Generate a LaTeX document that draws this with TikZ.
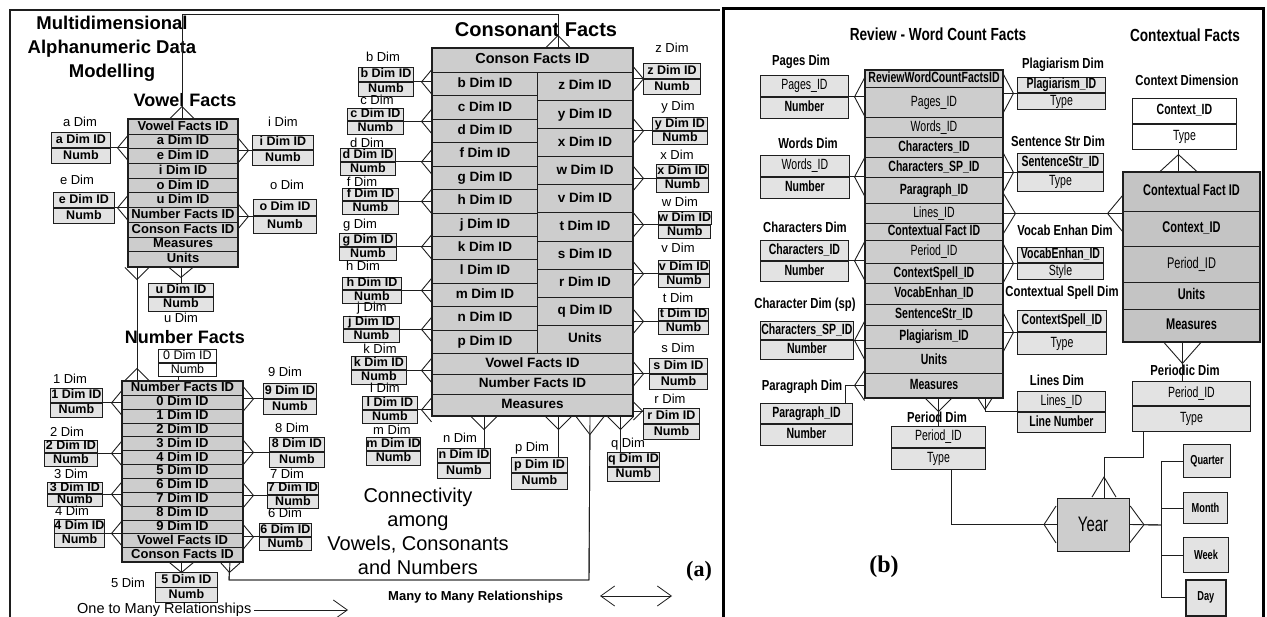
\documentclass[tikz,border=0pt]{standalone}
\usepackage{fontspec}
\setmainfont{Liberation Sans}
\newfontfamily\narrowsf{Liberation Sans}[FakeStretch=0.78]
\newfontfamily\condsf{Liberation Sans}[FakeStretch=0.71]
\newfontfamily\capserif{Liberation Serif}
\usetikzlibrary{arrows.meta,positioning}
\definecolor{factgray}{RGB}{205,205,205}
\definecolor{dimgray}{RGB}{227,227,227}
\definecolor{ctxgray}{RGB}{196,196,196}
\definecolor{ink}{RGB}{30,30,30}
\newcommand\fsz[1]{\fontsize{#1}{#1}\selectfont}
\tikzset{
  factrow/.style={draw=ink, line width=1pt, fill=factgray, inner sep=0pt,
    anchor=north west, text height=9.4pt, text depth=2.6pt, font=\bfseries\fsz{13}},
  tableframe/.style={draw=ink, line width=1.6pt},
  dimpart/.style={draw=ink, line width=0.9pt, fill=dimgray, inner sep=0pt,
    text height=9pt, text depth=2.4pt, font=\bfseries\fsz{12.5}},
  dimlbl/.style={inner sep=0pt, font=\fsz{13}},
  heading/.style={inner sep=0pt, align=center, font=\bfseries\fsz{18}},
  revrow/.style={draw=ink, line width=1pt, fill=factgray, inner sep=0pt, anchor=north west,
    minimum width=137, text height=10.5pt, text depth=3pt, font=\condsf\fsz{14.8}},
  ctxrow/.style={revrow, fill=ctxgray, minimum width=136, font=\condsf\fsz{15.5}},
  bpart/.style={draw=ink, line width=0.9pt, inner sep=0pt, text height=10.5pt, text depth=3pt,
    font=\condsf\fsz{14.8}},
  blbl/.style={inner sep=0pt, font=\narrowsf\bfseries\fsz{14.5}},
  btitle/.style={inner sep=0pt, font=\narrowsf\bfseries\fsz{17.5}},
  periodbox/.style={draw=ink, line width=1pt, fill=dimgray, inner sep=0pt, anchor=north west,
    font=\condsf\bfseries\fsz{13}},
  link/.style={draw=ink, line width=0.9pt},
  foot/.style 2 args={link, postaction={draw=ink, -{Straight Barb[reversed,length=#1,width=#2]}}},
  feet/.style n args={4}{link, postaction={draw=ink,
    {Straight Barb[reversed,length=#1,width=#2]}-{Straight Barb[reversed,length=#3,width=#4]}}},
  legtip/.style={line width=0.8pt, draw=ink, -{Straight Barb[length=14pt,width=20pt]}},
  legtips/.style={line width=0.8pt, draw=ink,
    {Straight Barb[length=14pt,width=20pt]}-{Straight Barb[length=14pt,width=20pt]}},
}
\begin{document}
\begin{tikzpicture}[x=1pt,y=-1pt]
\useasboundingbox (0,0) rectangle (1267,617);

% ---------- panel (a)
\draw[line width=2pt, draw=ink] (10,617) -- (10,10) -- (720,10);

\node[heading, font=\bfseries\fontsize{18.5}{24}\selectfont] (mtitle) at (112,49)
  {Multidimensional\\Alphanumeric Data\\Modelling};
\node[heading] (vtitle) at (185,100) {Vowel Facts};
\node[heading] (ntitle) at (185,337) {Number Facts};
\node[heading, font=\bfseries\fsz{20}] (ctitle) at (536,30) {Consonant Facts};

% fact tables
\foreach \t [count=\i] in {Vowel Facts ID, a Dim ID, e Dim ID, i Dim ID, o Dim ID, u Dim ID,
    Number Facts ID, Conson Facts ID, Measures, Units}
  \node[factrow, minimum width=109, minimum height=14.7] (vf\i) at (128,{119+(\i-1)*14.7}) {\t};
\draw[tableframe] (vf1.north west) rectangle (vf10.south east);

\foreach \t [count=\i] in {Number Facts ID, 0 Dim ID, 1 Dim ID, 2 Dim ID, 3 Dim ID, 4 Dim ID,
    5 Dim ID, 6 Dim ID, 7 Dim ID, 8 Dim ID, 9 Dim ID, Vowel Facts ID, Conson Facts ID}
  \node[factrow, minimum width=120, minimum height=13.85] (nf\i) at (122,{381+(\i-1)*13.85}) {\t};
\draw[tableframe] (nf1.north west) rectangle (nf13.south east);

\node[factrow, minimum width=200, minimum height=24, font=\bfseries\fsz{14.5}] (chd) at (432,48) {Conson Facts ID};
\foreach \t [count=\i] in {b,c,d,f,g,h,j,k,l,m,n,p}
  \node[factrow, minimum width=105, minimum height=23.42, font=\bfseries\fsz{13.5}] (cl\i)
    at (432,{72+(\i-1)*23.42}) {\t{} Dim ID};
\foreach \t [count=\i] in {z Dim ID, y Dim ID, x Dim ID, w Dim ID, v Dim ID, t Dim ID,
    s Dim ID, r Dim ID, q Dim ID, Units}
  \node[factrow, minimum width=95, minimum height=28.1, font=\bfseries\fsz{13.5}] (cr\i)
    at (537,{72+(\i-1)*28.1}) {\t};
\foreach \t [count=\i] in {Vowel Facts ID, Number Facts ID, Measures}
  \node[factrow, minimum width=200, minimum height=20.7, font=\bfseries\fsz{13.5}] (cb\i)
    at (432,{353+(\i-1)*20.7}) {\t};
\draw[tableframe] (chd.north west) rectangle (cb3.south east);

% dimension boxes
\foreach \n/\x/\y/\w/\h/\lx/\ly in {
    a/51/132/59/15/80/122, e/53/192/61/15/77/180, i/252/135/61/14.5/283/122,
    o/253/199/63/16.5/287/185, u/148/283/65/13.5/181/318,
    1/50/388/52/14/70/379, 2/44/440/53/12.5/67/432, 3/47/482/55/11/71/474,
    4/54/519/50/13.5/72/511, 9/263/383/53/15/285/372, 8/269/437/55/14.5/292/428,
    7/267/482/51/12.5/287/474, 6/259/523/52/13/285/513, 5/155/572/62/14.5/128/583,
    b/358/67/55/14/383/57, c/347/108/56/12.5/377/100, d/340/148/55/13/367/143,
    f/342/188/56/12.5/362/182, g/339/233/57/13/360/225, h/342/277/59/12.5/363/266,
    j/343/316/56/12.5/372/308, k/351/356/55/13.5/380/349, l/362/396/55/13/385/388,
    m/366/437/54/13.5/392/430,
    z/643/63/57/15/672/48, y/652/117/55/13/678/107, x/656/164/52/13.5/677/155,
    w/658/211/52/13/680/202, v/658/260/51/13/678/248, t/658/308/50/12.5/678/298,
    s/649/358/58/15/678/348, r/643/408/56/15/670/399,
    n/437/448/53/14.5/460/438, p/511/457/56/15.5/532/448, q/607/452/52/14/628/444}
{
  \node[dimpart, minimum width=\w, minimum height=\h, anchor=north west] (d\n) at (\x,\y) {\n{} Dim ID};
  \node[dimpart, minimum width=\w, minimum height=\h, anchor=north] (m\n) at (d\n.south) {Numb};
  \node[dimlbl] (l\n) at (\lx,\ly) {\n{} Dim};
}
\node[dimpart, fill=white, font=\fsz{12.5}, minimum width=58, minimum height=13, anchor=north west] (d0) at (158,349) {0 Dim ID};
\node[dimpart, fill=white, font=\fsz{12.5}, minimum width=58, minimum height=13, anchor=north] (m0) at (d0.south) {Numb};

% one to many links
\foreach \n in {a,e}
  \draw[foot={10pt}{24pt}] (d\n.south east) -- (d\n.south east -| vf1.west);
\foreach \n in {i,o}
  \draw[foot={10pt}{24pt}] (d\n.south west) -- (d\n.south west -| vf1.east);
\draw[foot={10pt}{24pt}] (du.north) -- (du.north |- vf10.south);
\foreach \n in {1,2,3,4}
  \draw[foot={10pt}{24pt}] (d\n.south east) -- (d\n.south east -| nf1.west);
\foreach \n in {6,7,8,9}
  \draw[foot={10pt}{24pt}] (d\n.south west) -- (d\n.south west -| nf1.east);
\draw[foot={10pt}{24pt}] ([xshift=-5pt]d5.north) -- ([xshift=-5pt]d5.north |- nf13.south);
\draw[link] ([xshift=-9pt]m0.south) -- ([xshift=-9pt]m0.south |- nf1.north);
\foreach \n in {b,c,d,f,g,h,j,k,l}
  \draw[foot={10pt}{24pt}] (d\n.south east) -- (d\n.south east -| chd.west);
\foreach \n in {z,y,x,w,v,t,s}
  \draw[foot={10pt}{24pt}] (d\n.south west) -- (d\n.south west -| chd.east);
\draw[foot={9pt}{18pt}] ([yshift=-3pt]dr.north west) -- ([yshift=-3pt]dr.north west -| chd.east);
\foreach \n/\s in {n/20, p/19, q/-13}
  \draw[foot={13pt}{26pt}] ([xshift=\s pt]d\n.north) -- ([xshift=\s pt]d\n.north |- cb3.south);

% many to many links
\coordinate (vctop) at (182,14);
\coordinate (cctop) at (558,14);
\coordinate (ncA) at (229,580);
\coordinate (ncB) at (589,580);
\draw[feet={12pt}{24pt}{12pt}{24pt}] ([xshift=9pt]vf10.south west) -- ([xshift=15pt]nf1.north west);
\draw[feet={12pt}{24pt}{12pt}{24pt}] ([xshift=54pt]vf1.north west) -- (vctop) -- (cctop)
  -- ([xshift=126pt]chd.north west);
\draw[feet={10pt}{20pt}{18pt}{28pt}] ([xshift=-13pt]nf13.south east) -- (ncA) -- (ncB)
  -- ([xshift=-43pt]cb3.south east);

\node[heading, font=\fontsize{20}{24}\selectfont] (conn) at (418,531)
  {Connectivity\\among\\Vowels, Consonants\\and Numbers};

\node[dimlbl, font=\fsz{14.5}, anchor=west] (onemany) at (77,610) {One to Many Relationships};
\coordinate (onetip) at (348,610);
\draw[legtip] ([xshift=3pt]onemany.east) -- (onetip);
\node[dimlbl, font=\bfseries\fsz{13}, anchor=west] (manymany) at (388,597) {Many to Many Relationships};
\coordinate (mmA) at (600,596);
\coordinate (mmB) at (672,596);
\draw[legtips] (mmA) -- (mmB);
\node[inner sep=0pt, font=\capserif\bfseries\fsz{22}] (pla) at (699,571) {(a)};

% ---------- panel (b)
\draw[line width=3pt, draw=black] (723,617) -- (723,9) -- (1263,9) -- (1263,617);

\node[btitle] (rvtitle) at (938,34) {Review - Word Count Facts};
\node[btitle] (cftitle) at (1185,35) {Contextual Facts};

\foreach \t/\a/\b [count=\i] in {{\bfseries ReviewWordCountFactsID}/70/87, Pages\_ID/87/117,
    Words\_ID/117/137, {\bfseries Characters\_ID}/137/157, {\bfseries Characters\_SP\_ID}/157/177,
    {\bfseries Paragraph\_ID}/177/203, Lines\_ID/203/223, {\bfseries Contextual Fact ID}/223/240,
    Period\_ID/240/263, {\bfseries ContextSpell\_ID}/263/283, {\bfseries VocabEnhan\_ID}/283/304,
    {\bfseries SentenceStr\_ID}/304/325, {\bfseries Plagiarism\_ID}/325/348,
    {\bfseries Units}/348/373, {\bfseries Measures}/373/397}
  \node[revrow, minimum height={\b-\a}] (rv\i) at (865,\a) {\t};
\draw[tableframe] (rv1.north west) rectangle (rv15.south east);

\foreach \t/\a/\b [count=\i] in {{\bfseries Contextual Fact ID}/172/211, {\bfseries Context\_ID}/211/246,
    Period\_ID/246/282, {\bfseries Units}/282/309, {\bfseries Measures}/309/341}
  \node[ctxrow, minimum height={\b-\a}] (cf\i) at (1123,\a) {\t};
\draw[tableframe] (cf1.north west) rectangle (cf5.south east);

\foreach \nm/\x/\y/\w/\h/\lx/\ly/\lab/\tp/\bt/\fl in {
    pg/760/75/88/21/801/62/Pages Dim/Pages\_ID/{\bfseries Number}/dimgray,
    wd/760/155/89/21/808/143/Words Dim/Words\_ID/{\bfseries Number}/dimgray,
    ch/760/240/88/20/805/227/Characters Dim/{\bfseries Characters\_ID}/{\bfseries Number}/dimgray,
    cs/760/321/93/18.5/805/305/Character Dim (sp)/{\bfseries Characters\_SP\_ID}/{\bfseries Number}/dimgray,
    pa/760/403/92/20.5/802/387/Paragraph Dim/{\bfseries Paragraph\_ID}/{\bfseries Number}/dimgray,
    pe/891/426/94/21/937/417/Period Dim/Period\_ID/Type/dimgray,
    li/1017/391/88/20/1057/380/Lines Dim/Lines\_ID/{\bfseries Line Number}/dimgray,
    pl/1017/77/88/15.5/1063/65/Plagiarism Dim/{\bfseries Plagiarism\_ID}/Type/dimgray,
    ss/1017/153/86/18.5/1058/141/Sentence Str Dim/{\bfseries SentenceStr\_ID}/Type/dimgray,
    ve/1017/247/86/15.5/1065/230/Vocab Enhan Dim/{\bfseries VocabEnhan\_ID}/Style/dimgray,
    sp/1017/310/89/21.5/1062/293/Contextual Spell Dim/{\bfseries ContextSpell\_ID}/Type/dimgray,
    cx/1132/98/104/25/1187/80/Context Dimension/{\bfseries Context\_ID}/Type/white,
    pd/1132/381/118/24.5/1185/370/Periodic Dim/Period\_ID/Type/dimgray}
{
  \node[bpart, fill=\fl, minimum width=\w, minimum height=\h, anchor=north west] (t\nm) at (\x,\y) {\tp};
  \node[bpart, fill=\fl, minimum width=\w, minimum height=\h, anchor=north] (b\nm) at (t\nm.south) {\bt};
  \node[blbl] (l\nm) at (\lx,\ly) {\lab};
}

\node[draw=ink, line width=1pt, fill=factgray, minimum width=72, minimum height=53,
  font=\condsf\fsz{21}] (yr) at (1093,524.5) {Year};
\node[periodbox, minimum width=47, minimum height=33] (qtr) at (1183,444) {Quarter};
\node[periodbox, minimum width=44, minimum height=31] (mon) at (1183,492) {Month};
\node[periodbox, minimum width=45, minimum height=35] (wk) at (1183,537) {Week};
\node[periodbox, line width=1.6pt, minimum width=40, minimum height=36] (day) at (1185,579) {Day};

\foreach \nm in {pg,wd,ch,cs}
  \draw[foot={10pt}{38pt}] (t\nm.south east) -- (t\nm.south east -| rv1.west);
\draw[foot={10pt}{30pt}] ([xshift=-7pt]tpa.north east) |- (rv15.west);
\foreach \nm in {pl,ss,ve,sp}
  \draw[foot={10pt}{38pt}] (t\nm.south west) -- (t\nm.south west -| rv1.east);
\draw[feet={12pt}{40pt}{15pt}{36pt}] (rv7.east) -- (rv7.east -| cf1.west);
\draw[foot={13pt}{26pt}] (tpe.north) -- (tpe.north |- rv15.south);
\draw[foot={11pt}{14pt}] (tli.south west) -| ([xshift=-18pt]rv15.south east);
\draw[foot={12pt}{37pt}] ([xshift=13pt]bpe.south) |- (yr.west);
\draw[foot={17pt}{37pt}] ([xshift=-6pt]bcx.south) -- ([xshift=-6pt]bcx.south |- cf1.north);
\draw[foot={21pt}{37pt}] ([xshift=-9pt]tpd.north) -- ([xshift=-9pt]tpd.north |- cf5.south);
\coordinate (yrbend) at (1104,457);
\draw[foot={20pt}{24pt}] ([xshift=-48pt]bpd.south) |- (yrbend) -- (yrbend |- yr.north);
\coordinate (treejn) at (1161,525);
\draw[foot={14pt}{37pt}] (treejn) -- (yr.east);
\draw[link] (treejn |- qtr.west) -- (treejn |- day.west);
\foreach \b in {qtr,mon,wk,day}
  \draw[link] (treejn |- \b.west) -- (\b.west);

\node[inner sep=0pt, font=\capserif\bfseries\fsz{24}] (plb) at (884,567) {(b)};
\end{tikzpicture}
\end{document}
